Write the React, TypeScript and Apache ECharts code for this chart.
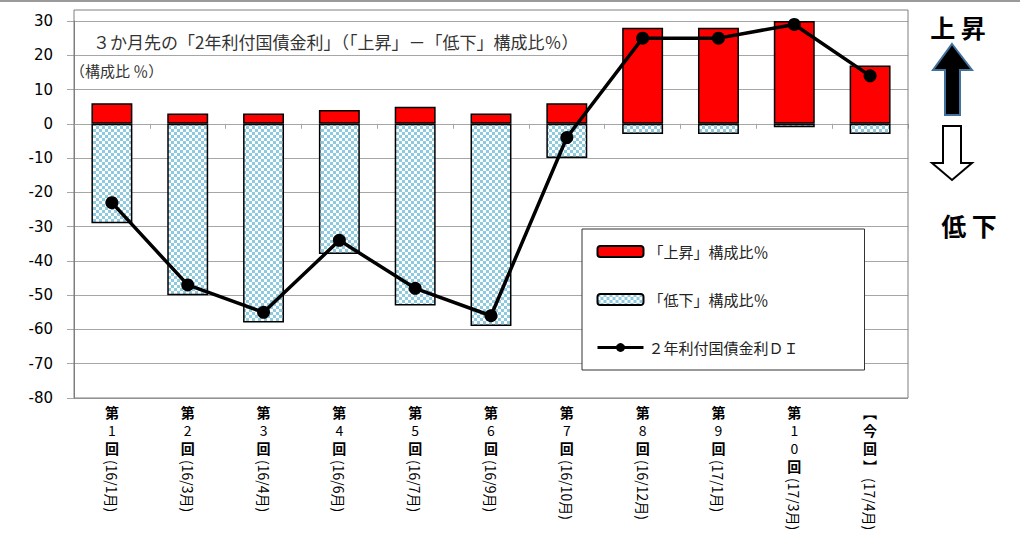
import React, { useEffect, useRef } from "react";
import * as echarts from "echarts";

// Survey rounds and survey months
const roundLabels = ["第1回", "第2回", "第3回", "第4回", "第5回", "第6回", "第7回", "第8回", "第9回", "第10回", "【今回】"];
const periodLabels = ["(16/1月)", "(16/3月)", "(16/4月)", "(16/6月)", "(16/7月)", "(16/9月)", "(16/10月)", "(16/12月)", "(17/1月)", "(17/3月)", "(17/4月)"];

// Share of respondents expecting a rise / a fall (%), and the resulting DI
const riseShare = [6, 3, 3, 4, 5, 3, 6, 28, 28, 30, 17];
const fallShare = [-29, -50, -58, -38, -53, -59, -10, -3, -3, -1, -3];
const diValues = [-23, -47, -55, -34, -48, -56, -4, 25, 25, 29, 14];

// Value axis range
const yMin = -80;
const yMax = 30;
const yStep = 10;

const seriesNames = ["「上昇」構成比％", "「低下」構成比％", "２年利付国債金利ＤＩ"];
const titleText = "３か月先の「2年利付国債金利」（「上昇」－「低下」構成比％）";
const unitText = "（構成比 ％）";

const JP = '"Noto Sans CJK JP", "Noto Sans", sans-serif';
const GRID = "#a6a6a6";
const FRAME = "#7f7f7f";

function checkerImage(): string {
  const c = document.createElement("canvas");
  c.width = 6;
  c.height = 6;
  const ctx = c.getContext("2d")!;
  ctx.fillStyle = "#ffffff";
  ctx.fillRect(0, 0, 6, 6);
  ctx.fillStyle = "#8ecadf";
  ctx.fillRect(0, 0, 3, 3);
  ctx.fillRect(3, 3, 3, 3);
  return c.toDataURL();
}

// Stack characters of a round label vertically (brackets in vertical form)
function stackLabel(v: string): string {
  return v
    .split("")
    .map((ch) => {
      if (ch === "【") return "{b|︻}";
      if (ch === "】") return "{b|︼}";
      if (/[0-9]/.test(ch)) return "{n|" + ch + "}";
      return "{b|" + ch + "}";
    })
    .join("\n");
}

export default function App() {
  const ref = useRef<HTMLDivElement>(null);

  useEffect(() => {
    document.body.style.margin = "0";
    const chart = echarts.init(ref.current!, undefined, { renderer: "svg" });
    const checker = { image: checkerImage(), repeat: "repeat" } as any;

    const option: any = {
      animation: false,
      backgroundColor: "#ffffff",
      grid: { left: 74, right: 112, top: 21, bottom: 145 },
      legend: {
        orient: "vertical",
        left: 582,
        top: 229,
        padding: [15, 66, 15, 14],
        itemGap: 33,
        itemWidth: 46,
        itemHeight: 11,
        backgroundColor: "#ffffff",
        borderColor: "#333333",
        borderWidth: 1,
        textStyle: { fontSize: 15, color: "#222222", fontFamily: JP },
        data: [
          { name: seriesNames[0] },
          { name: seriesNames[1] },
          { name: seriesNames[2], lineStyle: { width: 3 } },
        ],
      },
      xAxis: [
        {
          type: "category",
          data: roundLabels,
          axisLine: { show: true, onZero: true, lineStyle: { color: GRID, width: 1 } },
          axisTick: { show: true, length: 5, lineStyle: { color: GRID } },
          axisLabel: { show: false },
        },
        {
          type: "category",
          data: roundLabels,
          position: "bottom",
          axisLine: { show: false, onZero: false },
          axisTick: { show: false },
          axisLabel: {
            interval: 0,
            margin: 5,
            formatter: (v: string) => stackLabel(v),
            rich: {
              b: { fontSize: 14, lineHeight: 18, fontWeight: "bold", color: "#000", fontFamily: JP },
              n: { fontSize: 14, lineHeight: 18, color: "#000", fontFamily: JP },
            },
          },
        },
        {
          type: "category",
          data: periodLabels,
          position: "bottom",
          offset: 54,
          axisLine: { show: false, onZero: false },
          axisTick: { show: false },
          axisLabel: {
            interval: 0,
            rotate: -90,
            margin: 8,
            formatter: (v: string, i: number) =>
              roundLabels[i].length > 3 ? "{sp| }{t|" + v + "}" : "{t|" + v + "}",
            rich: {
              t: { fontSize: 14, color: "#000", fontFamily: JP },
              sp: { width: 18, fontSize: 14 },
            },
          },
        },
      ],
      yAxis: {
        type: "value",
        min: yMin,
        max: yMax,
        interval: yStep,
        axisLine: { show: true, lineStyle: { color: FRAME } },
        axisTick: { show: true, length: 7, lineStyle: { color: GRID } },
        axisLabel: { margin: 21, fontSize: 15, color: "#000", fontFamily: '"DejaVu Sans", sans-serif' },
        splitLine: { show: true, lineStyle: { color: GRID, width: 1 } },
      },
      graphic: [
        {
          type: "rect",
          z: 1,
          shape: { x: 74, y: 10, width: 834, height: 388 },
          style: { fill: "none", stroke: FRAME, lineWidth: 1 },
          silent: true,
        },
        {
          type: "line",
          z: 1,
          shape: { x1: 0, y1: 1, x2: 1020, y2: 1 },
          style: { stroke: "#9a9a9a", lineWidth: 2 },
        },
        {
          type: "text",
          z: 1,
          x: 93,
          y: 41,
          style: { text: titleText, fontSize: 17, fill: "#333", fontFamily: JP, verticalAlign: "middle" },
        },
        {
          type: "text",
          z: 1,
          x: 70,
          y: 70,
          style: { text: unitText, fontSize: 15, fill: "#333", fontFamily: JP, verticalAlign: "middle" },
        },
        {
          type: "text",
          x: 958,
          y: 27,
          style: { text: "上 昇", fontSize: 25, fontWeight: "bold", fill: "#000", fontFamily: JP, align: "center", verticalAlign: "middle" },
        },
        {
          type: "polygon",
          shape: {
            points: [
              [952, 44], [972, 70], [960, 70], [960, 115], [945, 115], [945, 70], [933, 70],
            ],
          },
          style: { fill: "#000", stroke: "#41719c", lineWidth: 2 },
        },
        {
          type: "polygon",
          shape: {
            points: [
              [943, 126], [961, 126], [961, 163], [972, 163], [952, 180], [932, 163], [943, 163],
            ],
          },
          style: { fill: "#fff", stroke: "#000", lineWidth: 2 },
        },
        {
          type: "text",
          x: 969,
          y: 225,
          style: { text: "低 下", fontSize: 25, fontWeight: "bold", fill: "#000", fontFamily: JP, align: "center", verticalAlign: "middle" },
        },
      ],
      series: [
        {
          name: seriesNames[0],
          type: "bar",
          data: riseShare,
          barWidth: "54%",
          barGap: "-100%",
          z: 3,
          itemStyle: { color: "#ff0000", borderColor: "#000", borderWidth: 1.5 },
        },
        {
          name: seriesNames[1],
          type: "bar",
          data: fallShare,
          barWidth: "54%",
          barGap: "-100%",
          z: 3,
          itemStyle: { color: checker, borderColor: "#000", borderWidth: 1.5 },
        },
        {
          name: seriesNames[2],
          type: "line",
          data: diValues,
          z: 5,
          symbol: "circle",
          symbolSize: 13,
          lineStyle: { color: "#000", width: 3.5 },
          itemStyle: { color: "#000" },
        },
      ],
    };

    chart.setOption(option);
    return () => chart.dispose();
  }, []);

  return <div ref={ref} style={{ width: 1020, height: 543 }} />;
}
